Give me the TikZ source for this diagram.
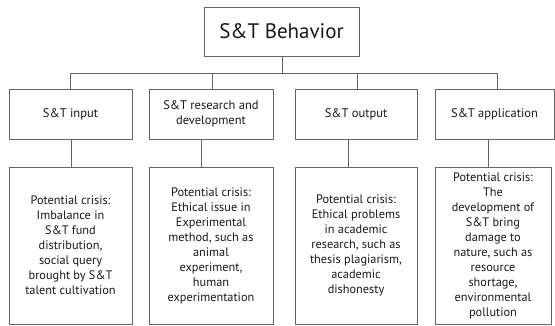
\documentclass[tikz,border=0pt]{standalone}
\usepackage{fontspec}
\setmainfont{PT Sans}
\begin{document}
\begin{tikzpicture}[x=1pt,y=-1pt,
  every node/.style={inner sep=0pt, outer sep=0pt},
  frame/.style={draw=black!60, line width=0.9pt, fill=white, align=center, text=black!90},
  topbox/.style={frame, minimum width=155, minimum height=49, font=\fontsize{21}{24}\selectfont},
  midbox/.style={frame, minimum height=50, font=\fontsize{12.5}{15}\selectfont},
  lowbox/.style={frame, minimum height=157, font=\fontsize{12.3}{15}\selectfont},
  link/.style={draw=black!60, line width=0.9pt}]
\useasboundingbox (0,0) rectangle (555,326);
\node[topbox] (top) at (281.5,31.5) {S\&T Behavior};
\node[midbox, minimum width=123] (m1) at (70.5,114) {S\&T input};
\node[midbox, minimum width=124] (m2) at (211,114) {S\&T research and\\development};
\node[midbox, minimum width=122] (m3) at (356,114) {S\&T output};
\node[midbox, minimum width=119] (m4) at (494.5,114) {S\&T application};
\node[lowbox, minimum width=123] (b1) at (70.5,245.5) {Potential crisis:\\Imbalance in\\S\&T fund\\distribution,\\social query\\brought by S\&T\\talent cultivation};
\node[lowbox, minimum width=124] (b2) at (211,245.5) {Potential crisis:\\Ethical issue in\\Experimental\\method, such as\\animal\\experiment,\\human\\experimentation};
\node[lowbox, minimum width=122] (b3) at (356,245.5) {Potential crisis:\\Ethical problems\\in academic\\research, such as\\thesis plagiarism,\\academic\\dishonesty};
\node[lowbox, minimum width=116] (b4) at (493,245.5) {Potential crisis:\\The\\development of\\S\&T bring\\damage to\\nature, such as\\resource\\shortage,\\environmental\\pollution};
\coordinate (bus) at (282,73);
\draw[link] (top.south -| bus) -- (bus);
\draw[link] ([xshift=-0.5]m1.north) |- (bus);
\draw[link] ([xshift=1]m2.north) |- (bus);
\draw[link] ([xshift=1]m3.north) |- (bus);
\draw[link] ([xshift=2.5]m4.north) |- (bus);
\draw[link] ([xshift=0.5]m1.south) -- ([xshift=0.5]m1.south |- b1.north);
\draw[link] ([xshift=-10]m2.south) -- ([xshift=-10]m2.south |- b2.north);
\draw[link] ([xshift=-8]m3.south) -- ([xshift=-8]m3.south |- b3.north);
\draw[link] ([xshift=-6.5]m4.south) -- ([xshift=-6.5]m4.south |- b4.north);
\end{tikzpicture}
\end{document}
